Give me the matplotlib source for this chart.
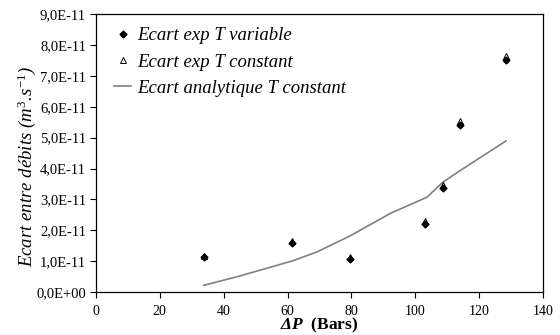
import numpy as np
import matplotlib
matplotlib.use("Agg")
import matplotlib.pyplot as plt
from matplotlib.ticker import FuncFormatter

# data (x in bars, y in m3/s)
dp_exp = [33.8, 61.5, 79.4, 102.9, 108.5, 114.1, 128.3]
ecart_var = [1.13e-11, 1.60e-11, 1.06e-11, 2.21e-11, 3.36e-11, 5.42e-11, 7.51e-11]
ecart_const = [1.17e-11, 1.65e-11, 1.14e-11, 2.31e-11, 3.46e-11, 5.53e-11, 7.63e-11]

dp_ana = [33.8, 45.0, 61.5, 69.2, 79.4, 92.2, 103.6, 108.5, 114.1, 128.3]
ecart_ana = [0.22e-11, 0.52e-11, 1.01e-11, 1.30e-11, 1.81e-11, 2.55e-11, 3.07e-11, 3.55e-11, 3.94e-11, 4.89e-11]

plt.rcParams['font.family'] = ['Liberation Serif', 'DejaVu Serif']
plt.rcParams['mathtext.fontset'] = 'custom'
plt.rcParams['mathtext.rm'] = 'Liberation Serif'
plt.rcParams['mathtext.it'] = 'Liberation Serif:italic'
plt.rcParams['mathtext.bf'] = 'Liberation Serif:bold'
plt.rcParams['mathtext.bfit'] = 'Liberation Serif:italic:bold'

fig = plt.figure(figsize=(5.6, 3.35), dpi=100)
ax = fig.add_axes([0.171, 0.128, 0.799, 0.830])

ax.plot(dp_exp, ecart_var, linestyle='none', marker='D', markersize=3.5,
        color='black', label='Ecart exp T variable', zorder=3)
ax.plot(dp_exp, ecart_const, linestyle='none', marker='^', markersize=4.5,
        markerfacecolor='white', markeredgecolor='black', markeredgewidth=0.7,
        label='Ecart exp T constant', zorder=2.5)
ax.plot(dp_ana, ecart_ana, color='#808080', linewidth=1.2,
        label='Ecart analytique T constant', zorder=2)

ax.set_xlim(0, 140)
ax.set_ylim(0, 9e-11)
ax.set_xticks(np.arange(0, 141, 20))
ax.set_yticks(np.arange(0, 9.01e-11, 1e-11))


def sci_fr(v, pos):
    if v == 0:
        return '0,0E+00'
    exp = int(np.floor(np.log10(abs(v)) + 1e-9))
    mant = v / 10 ** exp
    return ('%.1fE%03d' % (mant, exp)).replace('.', ',').replace('E-0', 'E-')


ax.yaxis.set_major_formatter(FuncFormatter(sci_fr))
ax.tick_params(axis='both', direction='out', length=4, width=0.8,
               labelsize=10.5, colors='black')
ax.tick_params(axis='x', pad=5, labelsize=10)
ax.tick_params(axis='y', pad=3)
for s in ax.spines.values():
    s.set_linewidth(0.9)

ax.set_ylabel(r'Ecart entre débits ($m^3$.$s^{-1}$)', fontsize=13.5,
              style='italic')
ax.yaxis.set_label_coords(-0.13, 0.453)
ax.set_xlabel(r'$\mathbfit{\Delta P}$  (Bars)', fontsize=12.5,
              fontweight='bold', va='bottom')
ax.xaxis.set_label_coords(0.5, -0.154)

leg = ax.legend(loc='upper left', frameon=False,
                prop={'style': 'italic', 'size': 13.5}, handlelength=0.9,
                handletextpad=0.3, labelspacing=0.49, borderaxespad=0.3,
                bbox_to_anchor=(0.012, 1.0))

fig.savefig('out.png', dpi=100)
